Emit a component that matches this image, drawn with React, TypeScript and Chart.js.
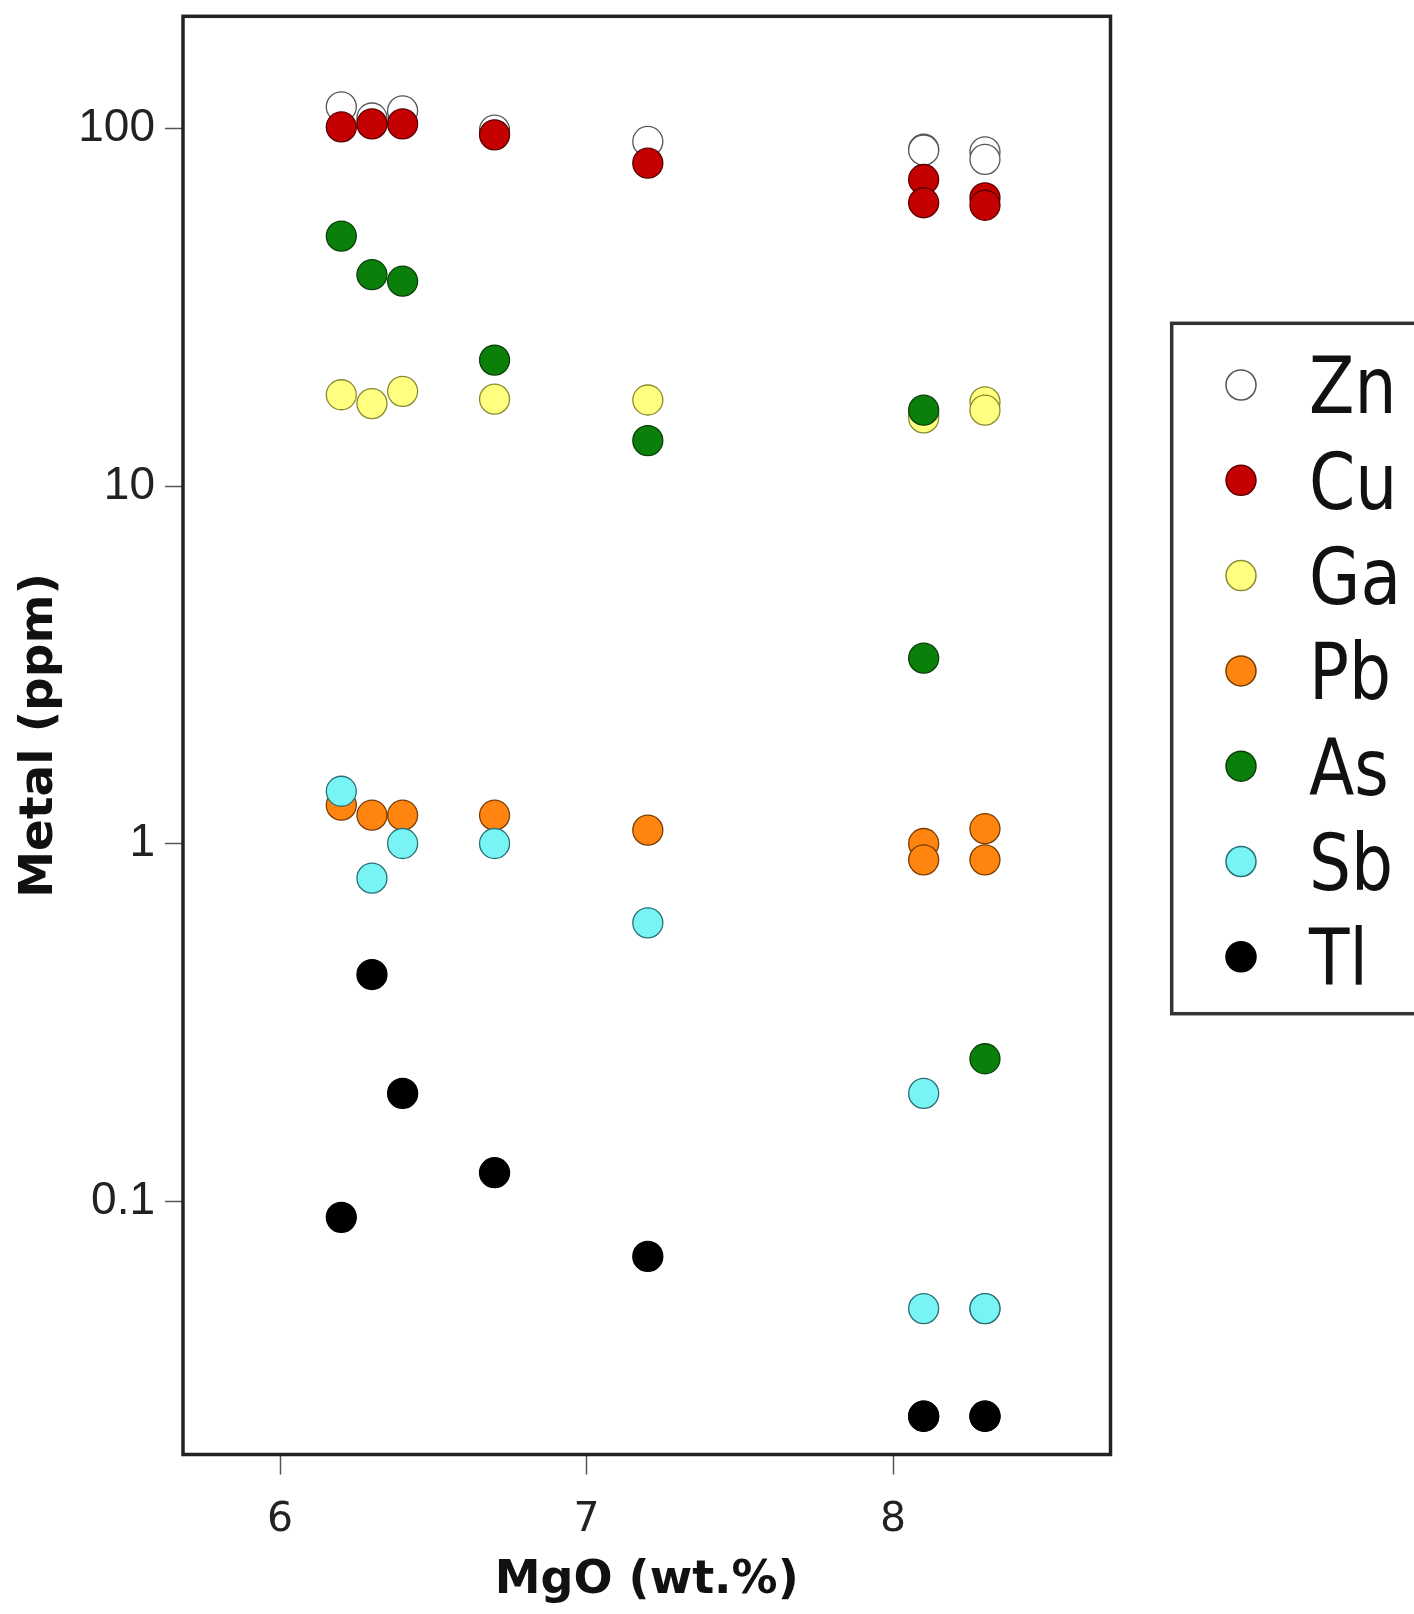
import React, { useEffect, useRef } from "react";
import { Chart, registerables } from "chart.js";

Chart.register(...registerables);

// ---- data ----
const mgo = [6.2, 6.3, 6.4, 6.7, 7.2, 8.1, 8.1, 8.3, 8.3];
const zn = [115, 107, 112, 99, 92, 87.5, 87, 86, 82];
const cu = [101, 103, 103, 96, 80, 72, 62, 64, 61];
const ga = [18, 17, 18.4, 17.5, 17.4, 15.8, 15.5, 17.2, 16.3];
const pb = [1.28, 1.2, 1.2, 1.2, 1.09, 1.0, 0.9, 1.1, 0.9];
const as = [50, 39, 37.4, 22.5, 13.4, 16.3, 3.3, 0.25, null];
const sb = [1.4, 0.8, 1.0, 1.0, 0.6, 0.2, 0.05, 0.05, 0.05];
const tl = [0.09, 0.43, 0.2, 0.12, 0.07, 0.025, 0.025, 0.025, 0.025];

const elementNames = ["Zn", "Cu", "Ga", "Pb", "As", "Sb", "Tl"];
const elementValues = [zn, cu, ga, pb, as, sb, tl];
const fillColors = ["#ffffff", "#c40000", "#ffff80", "#ff8410", "#0a7f0a", "#78f4f4", "#000000"];
const edgeColors = ["#555555", "#5a0000", "#8a8a30", "#7a3c00", "#0a3f0a", "#2a7078", "#000000"];

const xTicks = [6, 7, 8];
const yTicks = [0.1, 1, 10, 100];
const yTickLabels = ["0.1", "1", "10", "100"];

const xTitle = "MgO (wt.%)";
const yTitle = "Metal (ppm)";

export default function App() {
  const ref = useRef<HTMLCanvasElement | null>(null);

  useEffect(() => {
    const canvas = ref.current;
    if (!canvas) return;

    const frame = {
      id: "frame",
      beforeDatasetsDraw(chart: any) {
        const { ctx, chartArea } = chart;
        ctx.save();
        ctx.strokeStyle = "#222222";
        ctx.lineWidth = 3.5;
        ctx.strokeRect(chartArea.left, chartArea.top, chartArea.right - chartArea.left, chartArea.bottom - chartArea.top);
        ctx.restore();
      },
    };

    const boxLegend = {
      id: "boxLegend",
      afterDraw(chart: any) {
        const { ctx } = chart;
        ctx.save();
        ctx.strokeStyle = "#333333";
        ctx.lineWidth = 3.5;
        ctx.strokeRect(1171.7, 323.3, 320, 690.4);
        const first = 385;
        const step = 95.3;
        elementNames.forEach((name, i) => {
          const y = first + i * step;
          ctx.beginPath();
          ctx.arc(1241, y, 15, 0, Math.PI * 2);
          ctx.fillStyle = fillColors[i];
          ctx.fill();
          ctx.lineWidth = 1.5;
          ctx.strokeStyle = edgeColors[i];
          ctx.stroke();
          ctx.save();
          ctx.font = '78px "DejaVu Sans"';
          ctx.fillStyle = "#111111";
          ctx.textBaseline = "alphabetic";
          ctx.textAlign = "left";
          ctx.translate(1309, y + 28.4);
          ctx.scale(0.85, 1);
          ctx.fillText(name, 0, 0);
          ctx.restore();
        });
        ctx.restore();
      },
    };

    const datasets = elementNames.map((name, i) => ({
      label: name,
      data: mgo
        .map((x, j) => (elementValues[i][j] == null ? null : { x, y: elementValues[i][j] as number }))
        .filter((p) => p !== null),
      pointRadius: 15,
      pointHoverRadius: 15,
      pointBackgroundColor: fillColors[i],
      pointBorderColor: edgeColors[i],
      pointBorderWidth: 1.3,
      backgroundColor: fillColors[i],
      borderColor: edgeColors[i],
      showLine: false,
      order: elementNames.length - 1 - i,
    }));

    const chart = new Chart(canvas, {
      type: "scatter",
      data: { datasets: datasets as any },
      plugins: [frame, boxLegend],
      options: {
        responsive: false,
        animation: false,
        devicePixelRatio: 1,
        layout: { padding: { left: 0, top: 16.3, right: 303.5, bottom: 0 } },
        plugins: {
          legend: { display: false },
          tooltip: { enabled: false },
        },
        scales: {
          x: {
            type: "linear",
            position: "bottom",
            min: 5.6835,
            max: 8.7096,
            afterBuildTicks: (s: any) => {
              s.ticks = xTicks.map((v) => ({ value: v }));
            },
            afterFit: (s: any) => {
              s.height = 159.5;
              s.paddingLeft = 0;
              s.paddingRight = 0;
              s.paddingTop = 0;
              s.paddingBottom = 0;
            },
            grid: { drawOnChartArea: false, drawTicks: true, tickLength: 20, tickWidth: 1.5, tickColor: "#555555" },
            border: { display: false },
            ticks: {
              autoSkip: false,
              maxRotation: 0,
              padding: 21,
              color: "#222222",
              font: { family: '"DejaVu Sans"', size: 41 },
              callback: (v: any) => String(v),
            },
            title: {
              display: true,
              text: xTitle,
              color: "#111111",
              font: { family: '"DejaVu Sans"', weight: "bold", size: 46 },
              padding: { top: 0, bottom: 5 },
            },
          },
          y: {
            type: "logarithmic",
            position: "left",
            min: 0.01954,
            max: 206,
            afterBuildTicks: (s: any) => {
              s.ticks = yTicks.map((v) => ({ value: v }));
            },
            afterFit: (s: any) => {
              s.width = 183;
              s.paddingLeft = 0;
              s.paddingRight = 0;
              s.paddingTop = 0;
              s.paddingBottom = 0;
            },
            grid: { drawOnChartArea: false, drawTicks: true, tickLength: 18, tickWidth: 1.5, tickColor: "#555555" },
            border: { display: false },
            ticks: {
              autoSkip: false,
              padding: 10,
              color: "#222222",
              font: { family: '"Liberation Sans", Arial', size: 46 },
              callback: (v: any) => {
                const k = yTicks.findIndex((t) => Math.abs(t - Number(v)) < 1e-9);
                return k >= 0 ? yTickLabels[k] : "";
              },
            },
            title: {
              display: true,
              text: yTitle,
              color: "#111111",
              font: { family: '"DejaVu Sans"', weight: "bold", size: 47 },
              padding: { top: 12, bottom: 0 },
            },
          },
        },
      } as any,
    });

    return () => chart.destroy();
  }, []);

  return (
    <div style={{ position: "fixed", left: 0, top: 0, width: 1414, height: 1614, background: "#ffffff" }}>
      <canvas ref={ref} width={1414} height={1614} style={{ display: "block", width: 1414, height: 1614 }} />
    </div>
  );
}
